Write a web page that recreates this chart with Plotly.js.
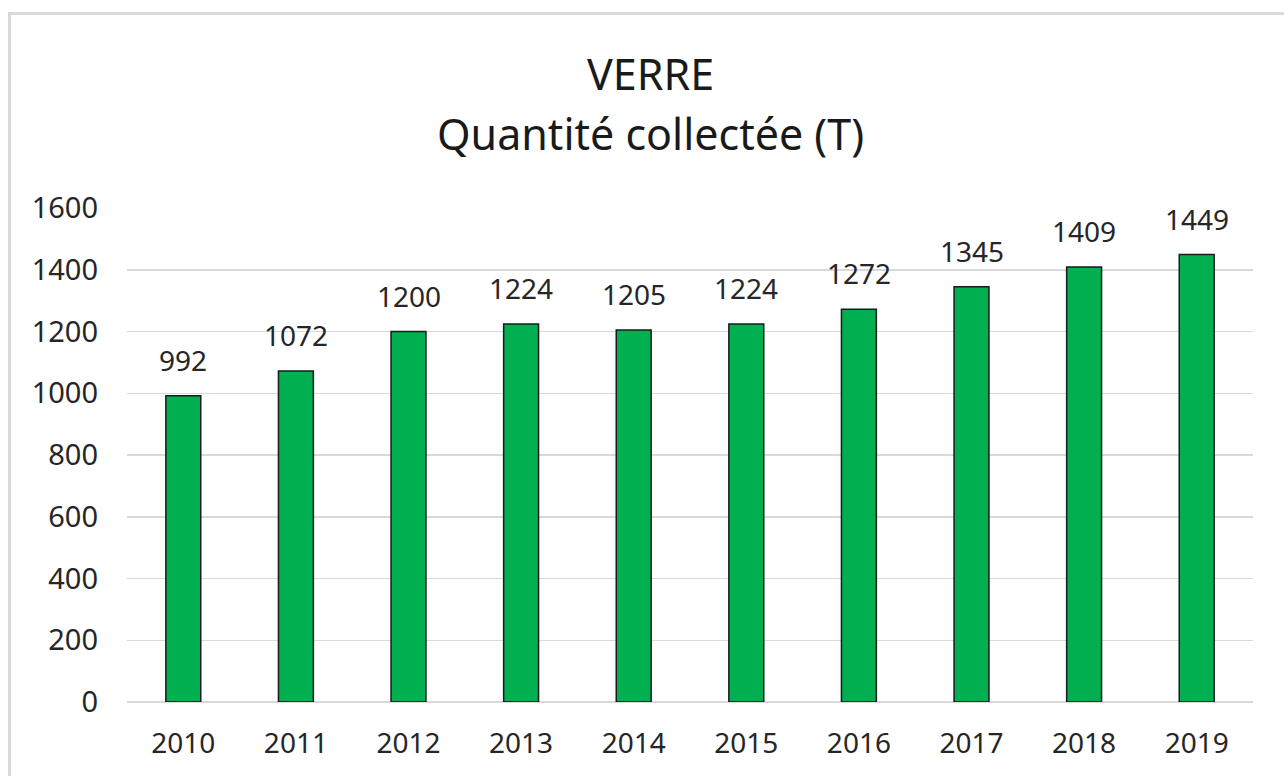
<!DOCTYPE html>
<html>
<head>
<meta charset="utf-8">
<script src="https://cdn.plot.ly/plotly-3.0.1.min.js"></script>
<style>
  html, body { margin: 0; padding: 0; background: #ffffff; overflow: hidden; }
  #frame { position: absolute; left: 8px; top: 12px; width: 1400px; height: 900px; border: 3px solid #d9d9d9; box-sizing: border-box; pointer-events: none; z-index: 5; }
  #chart { position: absolute; left: 0; top: 0; width: 1284px; height: 776px; }
</style>
</head>
<body>
<div id="chart"></div>
<div id="frame"></div>
<script>
const years = ["2010", "2011", "2012", "2013", "2014", "2015", "2016", "2017", "2018", "2019"];
const quantities = [992, 1072, 1200, 1224, 1205, 1224, 1272, 1345, 1409, 1449];
const titleLine1 = "VERRE";
const titleLine2 = "Quantité collectée (T)";
const yTicks = [0, 200, 400, 600, 800, 1000, 1200, 1400, 1600];

const fontFam = "Noto Sans, Open Sans, sans-serif";
const txtColor = "#262626";

const trace = {
  type: "bar",
  x: years,
  y: quantities,
  marker: { color: "#00b050", line: { color: "#1a1a1a", width: 1.5 } },
  hoverinfo: "x+y"
};

// category axis: annotation x given as category index
const labelAnnotations = years.map((yr, i) => ({
  x: i, y: quantities[i], xref: "x", yref: "y",
  text: String(quantities[i]), showarrow: false,
  xanchor: "center", yanchor: "bottom", yshift: 15,
  font: { family: fontFam, size: 28, color: txtColor }
}));

const layout = {
  width: 1284, height: 776,
  paper_bgcolor: "#ffffff", plot_bgcolor: "#ffffff",
  margin: { l: 127, r: 31, t: 208, b: 74, pad: 0 },
  bargap: 0.69,
  showlegend: false,
  xaxis: {
    type: "category",
    range: [-0.5, years.length - 0.5],
    tickfont: { family: fontFam, size: 28, color: txtColor },
    ticks: "", showgrid: false, zeroline: false,
    showline: false,
    ticklabelstandoff: 22
  },
  yaxis: {
    range: [0, 1600],
    tickvals: yTicks,
    ticktext: yTicks.map(String),
    tickfont: { family: fontFam, size: 29, color: txtColor },
    ticks: "", showgrid: true, gridcolor: "#d9d9d9", gridwidth: 1.5,
    zeroline: true, zerolinecolor: "#d9d9d9", zerolinewidth: 1.5,
    showline: false,
    ticklabelstandoff: 28
  },
  annotations: labelAnnotations.concat([
    { xref: "paper", yref: "paper", x: 0.4645, y: 1.2732, text: titleLine1, showarrow: false,
      xanchor: "center", yanchor: "middle", font: { family: fontFam, size: 43, color: "#1a1a1a" } },
    { xref: "paper", yref: "paper", x: 0.4645, y: 1.1518, text: titleLine2, showarrow: false,
      xanchor: "center", yanchor: "middle", font: { family: fontFam, size: 43, color: "#1a1a1a" } }
  ])
};

Plotly.newPlot("chart", [trace], layout, { displayModeBar: false, staticPlot: true });
</script>
</body>
</html>
